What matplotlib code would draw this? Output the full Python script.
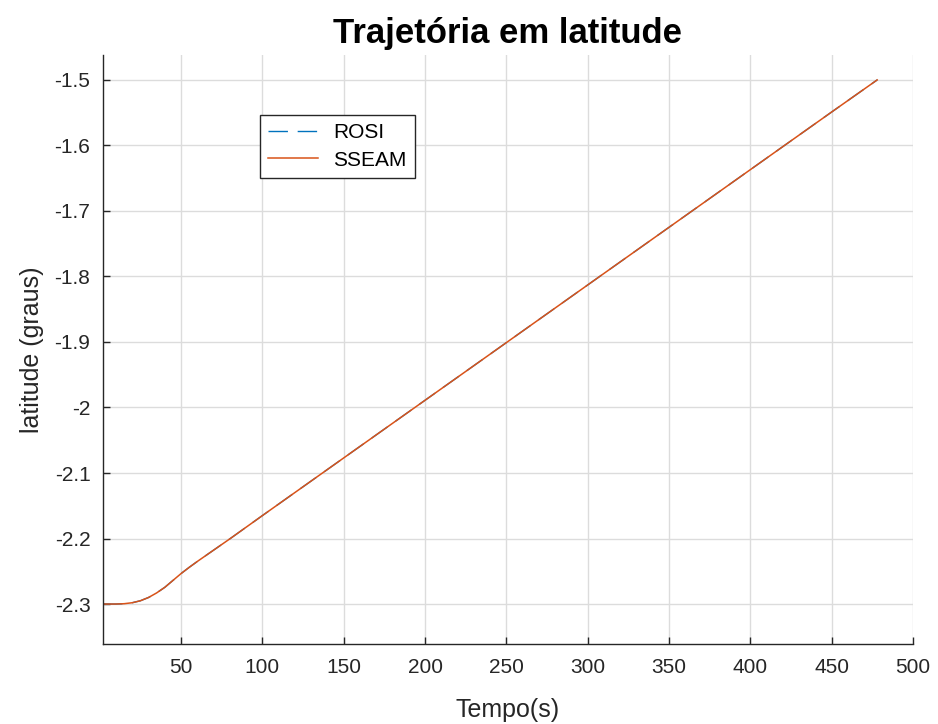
import matplotlib.pyplot as plt
import numpy as np

plt.rcParams['font.family'] = ['Liberation Sans', 'DejaVu Sans']

# tempo (s) e latitude (graus) ao longo da trajetória
tempo = [2, 10, 15, 20, 25, 30, 35, 40, 45, 50, 55, 60, 80, 100,
         150, 200, 250, 300, 350, 400, 450, 478]
lat_rosi = [-2.300, -2.300, -2.2995, -2.298, -2.295, -2.290, -2.283, -2.2745,
            -2.264, -2.2535, -2.244, -2.235, -2.2005, -2.165, -2.077, -1.989,
            -1.901, -1.813, -1.725, -1.637, -1.549, -1.500]
lat_sseam = [-2.300, -2.300, -2.2995, -2.298, -2.295, -2.290, -2.283, -2.2745,
             -2.264, -2.2535, -2.244, -2.235, -2.2005, -2.165, -2.077, -1.989,
             -1.901, -1.813, -1.725, -1.637, -1.549, -1.500]

xticks = [50, 100, 150, 200, 250, 300, 350, 400, 450, 500]
yticks = [-2.3, -2.2, -2.1, -2.0, -1.9, -1.8, -1.7, -1.6, -1.5]
ytick_labels = ['-2.3', '-2.2', '-2.1', '-2', '-1.9', '-1.8', '-1.7', '-1.6', '-1.5']

fig = plt.figure(figsize=(9.38, 7.24), dpi=100)
ax = fig.add_axes([0.1098, 0.1105, 0.8635, 0.8135])

ax.plot(tempo, lat_rosi, color='#0072BD', linewidth=1.0, dashes=(14, 7), label='ROSI')
ax.plot(tempo, lat_sseam, '-', color='#D95319', linewidth=1.1, label='SSEAM')

ax.set_xlim(2, 500)
ax.set_ylim(-2.361, -1.462)
ax.set_xticks(xticks)
ax.set_yticks(yticks)
ax.set_yticklabels(ytick_labels)

ax.grid(True, color='#dcdcdc', linewidth=1.0)
ax.set_axisbelow(True)
for s in ['top', 'right']:
    ax.spines[s].set_visible(False)
for s in ['left', 'bottom']:
    ax.spines[s].set_color('#262626')
    ax.spines[s].set_linewidth(1.0)
ax.tick_params(direction='in', length=5, width=1.0, colors='#262626',
               labelsize=15, labelcolor='#262626')
ax.tick_params(axis='x', pad=10)
ax.tick_params(axis='y', pad=9)

ax.set_title('Trajetória em latitude', fontsize=25, fontweight='bold', pad=9)
ax.set_xlabel('Tempo(s)', fontsize=18, color='#262626', labelpad=15)
ax.set_ylabel('latitude (graus)', fontsize=18, color='#262626', labelpad=8)

leg = ax.legend(loc='upper left', bbox_to_anchor=(0.194, 0.898), fontsize=15,
                fancybox=False, framealpha=1, edgecolor='#262626',
                handlelength=2.4, handletextpad=0.7, borderpad=0.4,
                labelspacing=0.4, borderaxespad=0)
leg.get_frame().set_linewidth(1.0)

fig.savefig('out.png', dpi=100)
